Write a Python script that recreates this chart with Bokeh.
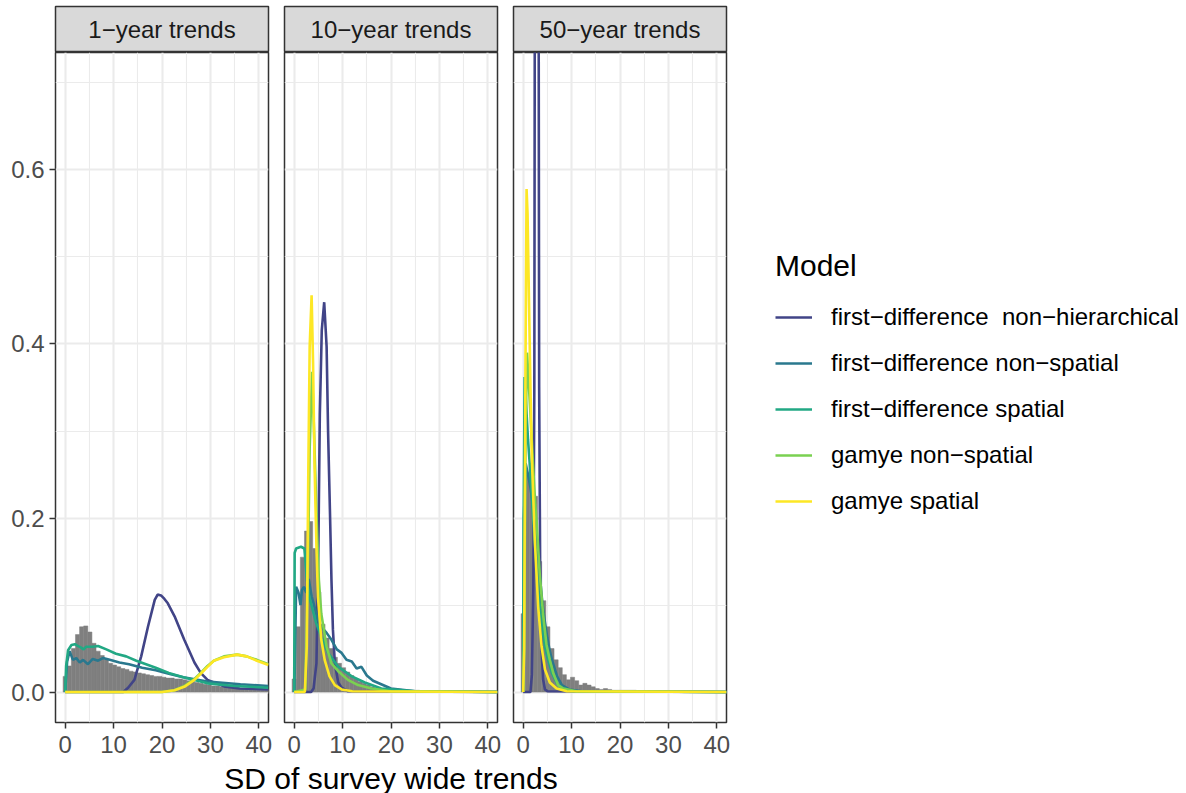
import numpy as np
from bokeh.plotting import figure
from bokeh.layouts import row, column
from bokeh.models import FixedTicker, NumeralTickFormatter, Range1d, Legend, LegendItem
from bokeh.embed import file_html
from bokeh.resources import INLINE
from bokeh.core.properties import value

# ---------------- data ----------------
facets = ["1\u2212year trends", "10\u2212year trends", "50\u2212year trends"]
models = ["first\u2212difference  non\u2212hierarchical",
          "first\u2212difference non\u2212spatial",
          "first\u2212difference spatial",
          "gamye non\u2212spatial",
          "gamye spatial"]
colors = ["#414487", "#2A788E", "#22A884", "#7AD151", "#FDE725"]
x_title = "SD of survey wide trends"

x_ticks = [0, 10, 20, 30, 40]
y_ticks = [0.0, 0.2, 0.4, 0.6]

bin_width = 0.85
hist_1yr = [0.018, 0.030, 0.050, 0.066, 0.075, 0.076, 0.069, 0.056, 0.047, 0.042,
            0.037, 0.033, 0.031, 0.029, 0.027, 0.026, 0.024, 0.023, 0.022, 0.021,
            0.020, 0.019, 0.018, 0.018, 0.017, 0.016, 0.016, 0.015, 0.015, 0.014,
            0.013, 0.012, 0.011, 0.010, 0.009, 0.008, 0.007, 0.007, 0.006, 0.006,
            0.005, 0.005, 0.005, 0.004, 0.004, 0.004, 0.004, 0.003, 0.003, 0.003]
hist_10yr = [0.015, 0.075, 0.155, 0.185, 0.196, 0.165, 0.115, 0.078, 0.062, 0.050,
             0.040, 0.033, 0.028, 0.023, 0.019, 0.015, 0.012, 0.010, 0.008, 0.006,
             0.005, 0.004, 0.0035, 0.003, 0.0025, 0.002, 0.002, 0.002, 0.002, 0.002,
             0.002, 0.0015, 0.0015, 0.0015, 0.0015, 0.0015, 0.001, 0.001, 0.001, 0.001,
             0.001, 0.001, 0.001, 0.001, 0.001, 0.001, 0.001, 0.001, 0.001, 0.001]
hist_50yr = [0.090, 0.250, 0.262, 0.225, 0.150, 0.105, 0.075, 0.050, 0.037, 0.028,
             0.020, 0.014, 0.017, 0.013, 0.008, 0.010, 0.008, 0.006, 0.004, 0.003,
             0.004, 0.003, 0.002, 0.002, 0.002, 0.002, 0.002, 0.002, 0.001, 0.001,
             0.001, 0.001, 0.001, 0.001, 0.0005, 0.0005, 0.0005, 0.0005, 0.0005, 0.0005,
             0.0005, 0.0005, 0.0005, 0.0005, 0.0005, 0.0005, 0.0005, 0.0005, 0.0005, 0.0005]

# density curves: 1-year panel
nh_1yr_x = [0, 12, 13, 14.3, 15.7, 17.1, 18.5, 19.1, 19.8, 20.5, 21.2, 22.6, 24.6, 26.7, 28.0, 29.4, 32.8, 36, 42]
nh_1yr_y = [0, 0, 0.005, 0.014, 0.041, 0.075, 0.106, 0.112, 0.111, 0.107, 0.102, 0.087, 0.060, 0.034, 0.022, 0.014, 0.0065, 0.004, 0.003]
ns_1yr_x = [0, 0.4, 0.9, 1.6, 2.3, 3.0, 3.7, 4.7, 5.7, 6.8, 7.8, 9.2, 11.2, 13.2, 15.9, 18.7, 21.4, 24.4, 29.4, 36.2, 42]
ns_1yr_y = [0, 0.035, 0.047, 0.037, 0.039, 0.034, 0.037, 0.032, 0.038, 0.036, 0.039, 0.037, 0.034, 0.032, 0.028, 0.025, 0.021, 0.017, 0.012, 0.009, 0.007]
sp_1yr_x = [0, 0.2, 0.6, 1.3, 2.0, 2.6, 3.3, 3.8, 4.3, 5.7, 6.8, 8.5, 10.5, 12.6, 14.7, 16.7, 18.7, 21.4, 24.4, 29.4, 35, 42]
sp_1yr_y = [0, 0.030, 0.048, 0.054, 0.055, 0.053, 0.051, 0.049, 0.052, 0.052, 0.053, 0.049, 0.044, 0.041, 0.036, 0.032, 0.028, 0.022, 0.017, 0.010, 0.007, 0.005]
gn_1yr_x = [0, 20, 22.6, 24.6, 26.7, 28, 29.4, 30.7, 32.8, 35.5, 37.5, 39.6, 42]
gn_1yr_y = [0, 0, 0.002, 0.007, 0.015, 0.022, 0.030, 0.036, 0.041, 0.043, 0.041, 0.037, 0.032]
gs_1yr_x = [0, 20, 22.6, 24.6, 26.7, 28, 29.4, 30.7, 32.8, 35.5, 37.5, 39.6, 42]
gs_1yr_y = [0, 0, 0.002, 0.006, 0.014, 0.021, 0.029, 0.036, 0.040, 0.043, 0.041, 0.036, 0.031]

# 10-year panel
nh_10yr_x = [0, 3.5, 4.0, 4.6, 5.0, 5.3, 5.7, 6.2, 6.7, 7.0, 7.4, 7.7, 8.0, 8.4, 9.1, 9.8, 11, 42]
nh_10yr_y = [0, 0, 0.004, 0.033, 0.167, 0.320, 0.416, 0.448, 0.397, 0.300, 0.205, 0.129, 0.072, 0.033, 0.011, 0.005, 0.001, 0]
ns_10yr_x = [0, 0.1, 0.4, 0.9, 1.3, 1.6, 2.0, 2.5, 3.0, 3.6, 4.2, 4.9, 5.6, 6.7, 7.7, 8.8, 9.8, 10.8, 11.9, 12.9, 13.9, 15.0, 16.3, 20, 25, 42]
ns_10yr_y = [0, 0.020, 0.121, 0.114, 0.100, 0.117, 0.121, 0.114, 0.130, 0.110, 0.098, 0.083, 0.075, 0.068, 0.060, 0.049, 0.045, 0.037, 0.035, 0.027, 0.029, 0.019, 0.013, 0.004, 0.001, 0]
sp_10yr_x = [0, 0.1, 0.4, 1.4, 2.1, 2.3, 2.6, 3.1, 3.8, 4.5, 5.5, 7.0, 9.1, 11.9, 14.6, 18, 25, 42]
sp_10yr_y = [0, 0.160, 0.165, 0.167, 0.165, 0.152, 0.130, 0.110, 0.095, 0.080, 0.065, 0.045, 0.029, 0.018, 0.011, 0.004, 0.001, 0]
gn_10yr_x = [0, 2.3, 2.8, 3.2, 3.7, 4.1, 4.6, 5.1, 5.6, 6.7, 7.7, 9.1, 11.1, 13.2, 16, 20, 42]
gn_10yr_y = [0, 0.003, 0.129, 0.280, 0.368, 0.300, 0.205, 0.129, 0.090, 0.052, 0.033, 0.024, 0.014, 0.008, 0.004, 0.001, 0]
gs_10yr_x = [0, 2.2, 2.6, 2.9, 3.2, 3.6, 3.9, 4.2, 4.6, 4.9, 5.6, 6.3, 7.3, 8.4, 9.8, 12, 42]
gs_10yr_y = [0, 0, 0.052, 0.244, 0.397, 0.456, 0.378, 0.263, 0.167, 0.110, 0.060, 0.037, 0.018, 0.008, 0.003, 0.001, 0]

# 50-year panel
nh_50yr_x = [0, 1.5, 1.8, 2.1, 2.3, 2.45, 2.8, 3.15, 3.3, 3.5, 3.8, 4.1, 4.5, 5.0, 42]
nh_50yr_y = [0, 0, 0.020, 0.120, 0.350, 1.000, 1.600, 1.000, 0.350, 0.150, 0.050, 0.015, 0.003, 0.001, 0]
ns_50yr_x = [0, 0.15, 0.5, 1.0, 1.5, 2.0, 2.5, 3.0, 3.5, 4.0, 4.5, 5.0, 5.5, 6.0, 7.0, 8.0, 9.5, 12, 42]
ns_50yr_y = [0, 0.200, 0.263, 0.250, 0.235, 0.215, 0.190, 0.160, 0.130, 0.100, 0.080, 0.062, 0.047, 0.036, 0.018, 0.008, 0.003, 0.001, 0]
sp_50yr_x = [0, 0.1, 0.3, 0.6, 1.0, 1.5, 2.0, 2.5, 3.0, 3.5, 4.0, 4.5, 5.0, 6.0, 7.0, 8.0, 10, 42]
sp_50yr_y = [0, 0.200, 0.362, 0.330, 0.290, 0.250, 0.205, 0.165, 0.125, 0.095, 0.072, 0.052, 0.040, 0.021, 0.010, 0.005, 0.001, 0]
gn_50yr_x = [0, 0.2, 0.5, 0.8, 1.0, 1.5, 2.0, 2.5, 2.8, 3.4, 4.1, 4.8, 5.5, 6.2, 7.2, 8.3, 11, 42]
gn_50yr_y = [0, 0.050, 0.300, 0.390, 0.370, 0.320, 0.265, 0.215, 0.194, 0.137, 0.090, 0.055, 0.037, 0.022, 0.008, 0.004, 0.001, 0]
gs_50yr_x = [0, 0.2, 0.45, 0.7, 0.9, 1.2, 1.5, 1.8, 2.4, 3.1, 3.8, 4.5, 5.5, 6.9, 9, 42]
gs_50yr_y = [0, 0.050, 0.350, 0.578, 0.550, 0.450, 0.350, 0.267, 0.175, 0.098, 0.052, 0.026, 0.011, 0.004, 0.001, 0]

panel_hists = [hist_1yr, hist_10yr, hist_50yr]
panel_lines = [
    [(nh_1yr_x, nh_1yr_y), (ns_1yr_x, ns_1yr_y), (sp_1yr_x, sp_1yr_y), (gn_1yr_x, gn_1yr_y), (gs_1yr_x, gs_1yr_y)],
    [(nh_10yr_x, nh_10yr_y), (ns_10yr_x, ns_10yr_y), (sp_10yr_x, sp_10yr_y), (gn_10yr_x, gn_10yr_y), (gs_10yr_x, gs_10yr_y)],
    [(nh_50yr_x, nh_50yr_y), (ns_50yr_x, ns_50yr_y), (sp_50yr_x, sp_50yr_y), (gn_50yr_x, gn_50yr_y), (gs_50yr_x, gs_50yr_y)],
]

# ---------------- style ----------------
FONT = "Liberation Sans"
SMALL = "24px"
LARGE = "30px"
FRAME_W, FRAME_H, STRIP_H = 213, 670, 46
LEFTS = [55, 8, 8]
LINE_W = 2.6

strips, panels = [], []
for i in range(3):
    s = figure(frame_width=FRAME_W, frame_height=STRIP_H, x_range=Range1d(0, 1), y_range=Range1d(0, 1),
               x_axis_type=None, y_axis_type=None, toolbar_location=None, output_backend="svg",
               title=None, min_border_left=LEFTS[i], min_border_right=8, min_border_top=6, min_border_bottom=0)
    s.grid.visible = False
    s.background_fill_color = "#D9D9D9"
    s.border_fill_color = "white"
    s.outline_line_color = "#333333"
    s.outline_line_width = 1.5
    s.text(x=[0.5], y=[0.5], text=[facets[i]], text_align="center", text_baseline="middle",
           text_font=value(FONT), text_font_size=SMALL, text_color="#1A1A1A")
    strips.append(s)

    p = figure(frame_width=FRAME_W, frame_height=FRAME_H, x_range=Range1d(-2, 42), y_range=Range1d(-0.035, 0.735),
               toolbar_location=None, output_backend="svg", title=None,
               min_border_left=LEFTS[i], min_border_right=8, min_border_top=0, min_border_bottom=40)
    p.background_fill_color = "white"
    p.border_fill_color = "white"
    p.outline_line_color = "#333333"
    p.outline_line_width = 1.5

    xt = FixedTicker(ticks=x_ticks, minor_ticks=[5, 15, 25, 35])
    yt = FixedTicker(ticks=y_ticks, minor_ticks=[0.1, 0.3, 0.5, 0.7])
    p.xaxis.ticker = xt
    p.yaxis.ticker = yt
    p.xgrid.ticker = xt
    p.ygrid.ticker = yt
    for g in (p.xgrid, p.ygrid):
        g.grid_line_color = "#EBEBEB"
        g.grid_line_width = 2.1
        g.minor_grid_line_color = "#EBEBEB"
        g.minor_grid_line_width = 1.1
    for ax in (p.xaxis, p.yaxis):
        ax.axis_line_color = None
        ax.major_tick_line_color = "#333333"
        ax.major_tick_line_width = 1.5
        ax.major_tick_out = 6
        ax.major_tick_in = 0
        ax.minor_tick_line_color = None
        ax.major_label_text_font = FONT
        ax.major_label_text_font_size = SMALL
        ax.major_label_text_color = "#4D4D4D"
    p.xaxis.major_label_standoff = 7
    p.yaxis.major_label_standoff = 5
    p.yaxis.formatter = NumeralTickFormatter(format="0.0")
    if i > 0:
        p.yaxis.visible = False

    vals = panel_hists[i]
    centers = np.arange(len(vals)) * bin_width
    p.vbar(x=centers, top=vals, bottom=0, width=bin_width, fill_color="#7F7F7F",
           line_color="#7F7F7F", line_width=0.5)
    rs = []
    for (xs, ys), c in zip(panel_lines[i], colors):
        rs.append(p.line(xs, ys, line_color=c, line_width=LINE_W))
    if i == 2:
        legend = Legend(items=[LegendItem(label=m, renderers=[r]) for m, r in zip(models, rs)],
                        location=(49, 207))
        legend.title = "Model"
        legend.title_text_font = FONT
        legend.title_text_font_size = LARGE
        legend.title_text_font_style = "normal"
        legend.title_text_color = "black"
        legend.title_standoff = 20
        legend.label_text_font = FONT
        legend.label_text_font_size = SMALL
        legend.label_text_color = "black"
        legend.glyph_width = 37
        legend.glyph_height = 26
        legend.label_height = 26
        legend.spacing = 18
        legend.label_standoff = 19
        legend.padding = 0
        legend.margin = 0
        legend.border_line_color = None
        legend.background_fill_alpha = 0
        p.add_layout(legend, "right")
    panels.append(p)

# x-axis title spanning all facets
t = figure(frame_width=513 + FRAME_W - 55, frame_height=31, x_range=Range1d(0, 1), y_range=Range1d(0, 1),
           x_axis_type=None, y_axis_type=None, toolbar_location=None, output_backend="svg",
           title=None, min_border_left=55, min_border_right=0, min_border_top=0, min_border_bottom=0)
t.grid.visible = False
t.outline_line_color = None
t.background_fill_color = "white"
t.text(x=[0.5], y=[0.5], text=[x_title], text_align="center", text_baseline="middle",
       text_font=value(FONT), text_font_size=LARGE, text_color="black")

layout = column(row(*strips), row(*panels), t)
open("out.html", "w").write(file_html(layout, INLINE))
